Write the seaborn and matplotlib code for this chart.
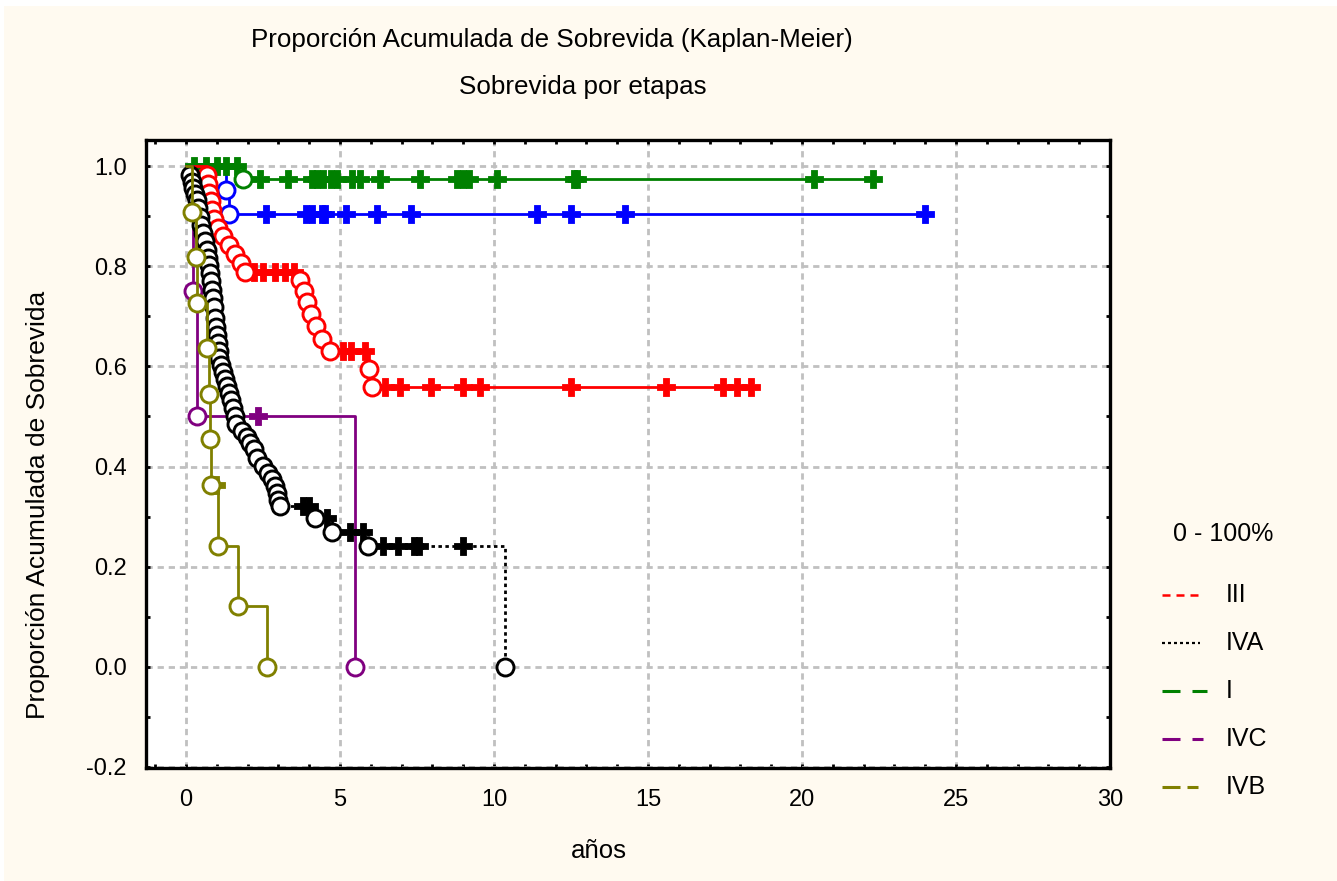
import numpy as np
import matplotlib
matplotlib.use("Agg")
import matplotlib.pyplot as plt
from matplotlib.lines import Line2D
from matplotlib.patches import Rectangle
from matplotlib.ticker import MultipleLocator
import seaborn as sns

# ---- Kaplan-Meier data by stage (time in years, survival after each event) ----
I_event_t = [1.85]
I_event_s = [0.975]
I_censor_t = [0.25, 0.65, 1.0, 1.3, 1.65, 2.4, 3.3, 4.1, 4.25, 4.45, 4.7, 4.9, 5.4,
              5.65, 6.3, 7.6, 8.8, 9.0, 9.2, 10.1, 12.6, 12.7, 20.4, 22.3]

II_event_t = [1.3, 1.4]
II_event_s = [0.952, 0.905]
II_censor_t = [2.6, 3.9, 4.1, 4.4, 4.5, 5.2, 6.2, 7.3, 11.4, 12.5, 14.25, 24.0]

III_event_t = [0.68, 0.72, 0.76, 0.8, 0.85, 0.92, 1.05, 1.2, 1.4, 1.6, 1.8, 1.9,
               3.7, 3.83, 3.93, 4.06, 4.22, 4.4, 4.68, 5.95, 6.05]
III_event_s = [0.982, 0.965, 0.947, 0.930, 0.912, 0.895, 0.877, 0.860, 0.842,
               0.825, 0.807, 0.789, 0.772, 0.751, 0.729, 0.705, 0.681, 0.655,
               0.630, 0.594, 0.558]
III_censor_t = [2.2, 2.5, 2.9, 3.2, 3.5, 5.1, 5.35, 5.8, 6.45, 6.95, 7.95, 9.0,
                9.55, 12.5, 15.6, 17.45, 17.9, 18.35]

IVA_event_t = [0.13, 0.19, 0.23, 0.29, 0.36, 0.39, 0.45, 0.49, 0.55, 0.62, 0.68,
               0.71, 0.75, 0.78, 0.81, 0.84, 0.88, 0.90, 0.94, 0.97, 1.01, 1.04,
               1.06, 1.08, 1.14, 1.2, 1.27, 1.33, 1.4, 1.46, 1.53, 1.59, 1.62,
               1.82, 1.98, 2.08, 2.21, 2.31, 2.5, 2.66, 2.79, 2.89, 2.95, 2.99,
               3.05, 4.19, 4.74, 5.9, 10.36]
IVA_event_s = [0.982, 0.968, 0.956, 0.944, 0.932, 0.916, 0.898, 0.882, 0.867,
               0.851, 0.833, 0.817, 0.803, 0.787, 0.771, 0.753, 0.737, 0.719,
               0.697, 0.679, 0.663, 0.647, 0.631, 0.616, 0.602, 0.588, 0.574,
               0.560, 0.546, 0.532, 0.516, 0.500, 0.484, 0.470, 0.458, 0.446,
               0.434, 0.418, 0.402, 0.388, 0.375, 0.361, 0.347, 0.333, 0.321,
               0.297, 0.269, 0.241, 0.0]
IVA_censor_t = [3.8, 4.0, 4.58, 5.32, 5.75, 6.4, 6.88, 7.4, 7.55, 9.0]

IVC_event_t = [0.22, 0.35, 5.49]
IVC_event_s = [0.75, 0.5, 0.0]
IVC_censor_t = [2.35]

IVB_event_t = [0.2, 0.33, 0.37, 0.68, 0.74, 0.77, 0.8, 1.04, 1.68, 2.63]
IVB_event_s = [0.909, 0.818, 0.727, 0.636, 0.545, 0.455, 0.364, 0.242, 0.121, 0.0]
IVB_censor_t = [0.97]

stage_labels = ["III", "IVA", "I", "IVC", "IVB"]
x_ticks = [0, 5, 10, 15, 20, 25, 30]
y_ticks = [-0.2, 0.0, 0.2, 0.4, 0.6, 0.8, 1.0]

BG = "#FFFAF0"
FIG_W, FIG_H = 1337, 881

sns.set_style("white")
plt.rcParams["font.family"] = ["Liberation Sans", "DejaVu Sans"]
plt.rcParams["lines.scale_dashes"] = False
plt.rcParams["text.color"] = "black"
plt.rcParams["xtick.color"] = "black"
plt.rcParams["ytick.color"] = "black"
plt.rcParams["axes.labelcolor"] = "black"

fig = plt.figure(figsize=(FIG_W / 100, FIG_H / 100), dpi=100)
fig.patch.set_facecolor("white")
fig.add_artist(Rectangle((4 / FIG_W, 0), 1, 1 - 6 / FIG_H, transform=fig.transFigure,
                         facecolor=BG, edgecolor="none", zorder=-10))


def fx(px):
    return px / FIG_W


def fy(py):
    return 1 - py / FIG_H


ax = fig.add_axes([fx(146), fy(768), fx(1110) - fx(146), fy(140) - fy(768)])
ax.set_facecolor("white")


def surv_at(t, ev_t, ev_s):
    s = 1.0
    for et, es in zip(ev_t, ev_s):
        if et <= t:
            s = es
    return s


def draw_stage(ev_t, ev_s, cen_t, color, ls="-", z=3):
    end = max(ev_t + cen_t)
    xs = [0.0] + list(ev_t) + [end]
    ys = [1.0] + list(ev_s) + [ev_s[-1]]
    sns.lineplot(x=xs, y=ys, drawstyle="steps-post", estimator=None, sort=False,
                 color=color, lw=2.0, linestyle=ls, ax=ax, legend=False, zorder=z)
    cs = [surv_at(t, ev_t, ev_s) for t in cen_t]
    sns.scatterplot(x=cen_t, y=cs, marker="P", s=170, color=color, edgecolor=color,
                    linewidth=0.6, ax=ax, legend=False, zorder=z + 0.1)
    sns.scatterplot(x=ev_t, y=ev_s, marker="o", s=150, color="white",
                    edgecolor=color, linewidth=2.1, ax=ax, legend=False, zorder=z + 0.2)


draw_stage(II_event_t, II_event_s, II_censor_t, "#0000FF", z=3)
draw_stage(I_event_t, I_event_s, I_censor_t, "#008000", z=4)
draw_stage(III_event_t, III_event_s, III_censor_t, "#FF0000", z=5)
draw_stage(IVC_event_t, IVC_event_s, IVC_censor_t, "#800080", z=6)
draw_stage(IVA_event_t, IVA_event_s, IVA_censor_t, "#000000", ls=(0, (2.5, 2.5)), z=7)
draw_stage(IVB_event_t, IVB_event_s, IVB_censor_t, "#808000", z=8)

ax.set_xlim(-1.3, 30)
ax.set_ylim(-0.202, 1.052)
ax.set_xticks(x_ticks)
ax.set_yticks(y_ticks)
ax.set_xticklabels([str(v) for v in x_ticks])
ax.set_yticklabels([f"{v:.1f}" for v in y_ticks])
ax.xaxis.set_minor_locator(MultipleLocator(1))
ax.yaxis.set_minor_locator(MultipleLocator(0.1))
ax.tick_params(which="both", direction="in", length=3, width=2, color="black",
               top=True, right=True, bottom=True, left=True)
ax.tick_params(axis="x", which="major", labelsize=17, pad=15, labelcolor="black")
ax.tick_params(axis="y", which="major", labelsize=17, pad=14, labelcolor="black")
ax.grid(True, which="major", color="#C0C0C0", linestyle=(0, (4.5, 3.5)), lw=2.0)
ax.set_axisbelow(True)
for sp in ax.spines.values():
    sp.set_visible(True)
    sp.set_color("black")
    sp.set_linewidth(2.4)

ax.set_xlabel("")
ax.set_ylabel("")

fig.text(fx(552), fy(40), "Proporción Acumulada de Sobrevida (Kaplan-Meier)",
         ha="center", va="center", fontsize=18.7)
fig.text(fx(583), fy(87), "Sobrevida por etapas", ha="center", va="center",
         fontsize=18.7)
fig.text(fx(599), fy(851), "años", ha="center", va="center", fontsize=18.5)
fig.text(fx(38), fy(505), "Proporción Acumulada de Sobrevida", ha="center",
         va="center", rotation=90, fontsize=19)

# legend drawn as a free-standing key on the right
fig.text(fx(1173), fy(534), "0 - 100%", ha="left", va="center", fontsize=18)
px2pt = 0.72
key_styles = [
    ("#FF0000", 1202, (0, (8 * px2pt, 6 * px2pt)), 1.8),
    ("#000000", 1200, (0, (3 * px2pt, 3 * px2pt)), 1.6),
    ("#008000", 1207, (0, (18 * px2pt, 12 * px2pt)), 2.2),
    ("#800080", 1203, (0, (18 * px2pt, 12 * px2pt)), 2.2),
    ("#808000", 1198, (0, (18 * px2pt, 7 * px2pt)), 2.2),
]
key_y = [595, 643, 691, 739, 787]
for lab, (c, x1, dash, lw), yy in zip(stage_labels, key_styles, key_y):
    fig.add_artist(Line2D([fx(1162), fx(x1)], [fy(yy), fy(yy)], transform=fig.transFigure,
                          color=c, linestyle=dash, lw=lw))
    fig.text(fx(1226), fy(yy), lab, ha="left", va="center", fontsize=18)

fig.savefig("out.png", dpi=100, facecolor=fig.get_facecolor())
